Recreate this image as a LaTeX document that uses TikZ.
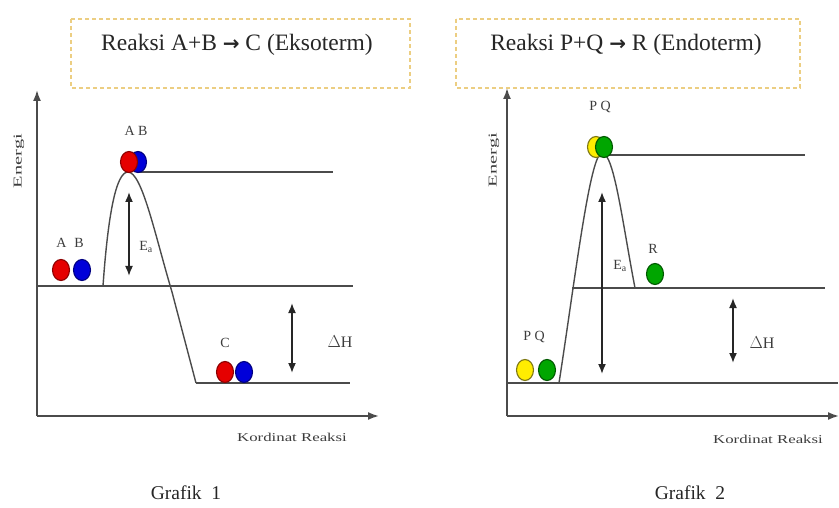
\documentclass[tikz,border=0pt]{standalone}
\usepackage{fontspec}
\setmainfont{Liberation Serif}
\newfontfamily\panahfont{DejaVu Sans}
\usetikzlibrary{arrows.meta,shapes.geometric}

\definecolor{garis}{RGB}{75,75,75}
\definecolor{putus}{RGB}{236,206,130}
\definecolor{teks}{RGB}{60,60,60}

\begin{document}
\begin{tikzpicture}[x=1pt, y=-1pt, >=latex]

% --- Gaya umum ---
\tikzset{
    kotak/.style={draw=putus, dash pattern=on 4pt off 3pt, line width=1.1pt},
    judul/.style={font=\fontsize{23.5}{26}\selectfont, text=black!85},
    sumbu/.style={-{Latex[length=11pt,width=8pt]}, line width=1.8pt, draw=garis},
    tingkat/.style={line width=1.6pt, draw=garis},
    kurva/.style={line width=1.4pt, draw=garis},
    panah/.style={{Latex[length=10pt,width=8pt]}-{Latex[length=10pt,width=8pt]}, line width=1.6pt, draw=black!85},
    bola/.style={ellipse, minimum width=17pt, minimum height=21pt, inner sep=0pt, line width=1.1pt},
    merah/.style={bola, fill=red!90!black, draw=red!55!black},
    biru/.style={bola, fill=blue!85!black, draw=blue!50!black},
    hijau/.style={bola, fill=green!65!black, draw=green!35!black},
    kuning/.style={bola, fill=yellow!95!orange, draw=olive!85!black},
    zat/.style={font=\fontsize{14}{16}\selectfont, text=teks},
    energi/.style={font=\fontsize{12}{14}\selectfont, text=teks, rotate=90, xscale=1.7},
    absis/.style={font=\fontsize{12}{14}\selectfont, text=teks, xscale=1.4},
    grafik/.style={font=\fontsize{19.5}{22}\selectfont, text=black!85}
}
\newcommand{\panahreaksi}{{\panahfont\bfseries\fontsize{20}{22}\selectfont →}}

\useasboundingbox (0,0) rectangle (839,508);

    % ===== Grafik 1 : eksoterm =====
    \draw[kotak] (71,19) rectangle (410,88);
    \node[judul] (judul1) at (237,45) {Reaksi A+B \panahreaksi{} C (Eksoterm)};

    % Sumbu
    \coordinate (O1) at (37,416);
    \coordinate (Y1) at (37,90);
    \coordinate (X1) at (379,416);
    \draw[sumbu] (O1) -- (Y1);
    \draw[sumbu] (O1) -- (X1);
    \node[energi] (energi1) at (19,161) {Energi};
    \node[absis] (absis1) at (292,437) {Kordinat Reaksi};

    % Tingkat energi
    \draw[tingkat] (37,286) -- (353,286);
    \draw[tingkat] (138,172) -- (333,172);
    \draw[tingkat] (196,383) -- (350,383);

    % Kurva reaksi
    \draw[kurva] (103,286) .. controls (108,215) and (116,172) .. (128,172)
        .. controls (142,172) and (155,235) .. (172,292) -- (196,383);

    % Partikel
    \node[zat] (lab1a) at (70,243) {A\hspace{8pt}B};
    \node[merah] (a1) at (61,270) {};
    \node[biru] (b1) at (82,270) {};
    \node[zat] (lab1b) at (136,131) {A B};
    \node[biru] (b2) at (138,162) {};
    \node[merah] (a2) at (129,162) {};
    \node[zat] (lab1c) at (225,343) {C};
    \node[merah] (c1) at (225,372) {};
    \node[biru] (c2) at (244,372) {};

    % Ea dan delta H
    \coordinate (ea1a) at (129,192);
    \coordinate (ea1b) at (129,276);
    \draw[panah] (ea1a) -- (ea1b);
    \node[zat] (ea1) at (146,247) {E\textsubscript{a}};
    \coordinate (dh1a) at (292,303);
    \coordinate (dh1b) at (292,373);
    \draw[panah] (dh1a) -- (dh1b);
    \node[zat, font=\fontsize{16}{18}\selectfont] (dh1) at (340,342) {$\Delta$H};

    \node[grafik] (grafik1) at (186,493) {Grafik\ \ 1};

    % ===== Grafik 2 : endoterm =====
    \draw[kotak] (456,19) rectangle (800,88);
    \node[judul] (judul2) at (626,45) {Reaksi P+Q \panahreaksi{} R (Endoterm)};

    % Sumbu
    \coordinate (O2) at (507,416);
    \coordinate (Y2) at (507,88);
    \coordinate (X2) at (839,416);
    \draw[sumbu] (O2) -- (Y2);
    \draw[sumbu] (O2) -- (X2);
    \node[energi] (energi2) at (494,160) {Energi};
    \node[absis] (absis2) at (768,439) {Kordinat Reaksi};

    % Tingkat energi
    \draw[tingkat] (507,383) -- (838,383);
    \draw[tingkat] (572,288) -- (825,288);
    \draw[tingkat] (603,155) -- (805,155);

    % Kurva reaksi
    \draw[kurva] (559,383) .. controls (575,280) and (590,153) .. (602,153)
        .. controls (614,153) and (622,220) .. (635,288);

    % Partikel
    \node[zat] (lab2a) at (534,337) {P Q};
    \node[kuning] (p1) at (525,370) {};
    \node[hijau] (q1) at (547,370) {};
    \node[zat] (lab2b) at (600,107) {P Q};
    \node[kuning] (p2) at (596,147) {};
    \node[hijau] (q2) at (604,147) {};
    \node[zat] (lab2c) at (653,249) {R};
    \node[hijau] (r1) at (655,274) {};

    % Ea dan delta H
    \coordinate (ea2a) at (602,192);
    \coordinate (ea2b) at (602,374);
    \draw[panah] (ea2a) -- (ea2b);
    \node[zat] (ea2) at (620,266) {E\textsubscript{a}};
    \coordinate (dh2a) at (733,298);
    \coordinate (dh2b) at (733,363);
    \draw[panah] (dh2a) -- (dh2b);
    \node[zat, font=\fontsize{16}{18}\selectfont] (dh2) at (762,343) {$\Delta$H};

    \node[grafik] (grafik2) at (690,493) {Grafik\ \ 2};

\end{tikzpicture}
\end{document}
